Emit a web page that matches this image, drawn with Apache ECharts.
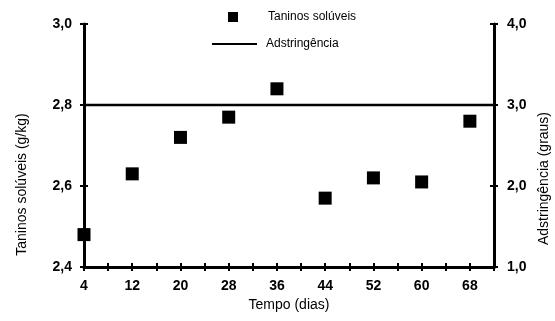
<!DOCTYPE html>
<html>
<head>
<meta charset="utf-8">
<script src="https://cdn.jsdelivr.net/npm/echarts@6/dist/echarts.min.js"></script>
<style>
html,body{margin:0;padding:0;background:#fff;}
#chart{width:555px;height:321px;}
</style>
</head>
<body>
<div id="chart"></div>
<script>
const days = [4, 12, 20, 28, 36, 44, 52, 60, 68];
const taninos = [2.48, 2.63, 2.72, 2.77, 2.84, 2.57, 2.62, 2.61, 2.76];
const adstringenciaX = [4, 72];
const adstringencia = [3.0, 3.0];
const leftTicks = [2.4, 2.6, 2.8, 3.0];
const rightTicks = [1.0, 2.0, 3.0, 4.0];
const xLabels = [4, 12, 20, 28, 36, 44, 52, 60, 68];

const FONT = 'Liberation Sans, Arial, sans-serif';
const BLACK = '#000';
const comma = v => v.toFixed(1).replace('.', ',');

const chart = echarts.init(document.getElementById('chart'));

const xBase = {
  type: 'value', min: 4, max: 72, interval: 4, position: 'bottom'
};
const yLeftBase = {
  type: 'value', min: leftTicks[0], max: leftTicks[leftTicks.length - 1], interval: 0.2, position: 'left'
};
const yRightBase = {
  type: 'value', min: rightTicks[0], max: rightTicks[rightTicks.length - 1], interval: 1, position: 'right'
};

chart.setOption({
  animation: false,
  backgroundColor: '#fff',
  grid: { left: 84, right: 61, top: 24, bottom: 54, containLabel: false, outerBoundsMode: 'none' },
  legend: [
    {
      left: 223, top: 6,
      itemWidth: 10, itemHeight: 10,
      textStyle: { fontFamily: FONT, fontSize: 12, color: BLACK, padding: [0, 0, 0, 25] },
      data: [{ name: 'Taninos solúveis', icon: 'rect' }]
    },
    {
      left: 207, top: 33,
      itemWidth: 45, itemHeight: 2,
      textStyle: { fontFamily: FONT, fontSize: 12, color: BLACK, padding: [0, 0, 0, 4] },
      data: [{ name: 'Adstringência', icon: 'rect' }]
    }
  ],
  xAxis: [
    Object.assign({}, xBase, {
      name: 'Tempo (dias)', nameLocation: 'middle', nameGap: 30,
      nameTextStyle: { fontFamily: FONT, fontSize: 14, color: BLACK },
      axisLine: { show: true, lineStyle: { color: BLACK, width: 3 } },
      axisTick: { show: true, inside: false, length: 4, lineStyle: { color: BLACK, width: 2 } },
      axisLabel: {
        fontFamily: FONT, fontSize: 14, fontWeight: 'bold', color: BLACK, margin: 12,
        formatter: v => xLabels.indexOf(v) >= 0 ? String(v) : ''
      },
      splitLine: { show: false }
    }),
    Object.assign({}, xBase, {
      axisLine: { show: false },
      axisTick: { show: true, inside: true, length: 4, lineStyle: { color: BLACK, width: 2 } },
      axisLabel: { show: false },
      splitLine: { show: false }
    })
  ],
  yAxis: [
    Object.assign({}, yLeftBase, {
      name: 'Taninos solúveis (g/kg)', nameLocation: 'middle', nameGap: 55,
      nameTextStyle: { fontFamily: FONT, fontSize: 14, color: BLACK, padding: [0, 78, 0, 0] },
      axisLine: { show: true, lineStyle: { color: BLACK, width: 3 } },
      axisTick: { show: true, inside: false, length: 4, lineStyle: { color: BLACK, width: 2 } },
      axisLabel: { fontFamily: FONT, fontSize: 14, fontWeight: 'bold', color: BLACK, margin: 12, formatter: comma },
      splitLine: { show: false }
    }),
    Object.assign({}, yRightBase, {
      name: 'Adstringência (graus)', nameLocation: 'middle', nameGap: 42,
      nameTextStyle: { fontFamily: FONT, fontSize: 14, color: BLACK, padding: [0, 66, 0, 0] },
      axisLine: { show: true, lineStyle: { color: BLACK, width: 3 } },
      axisTick: { show: true, inside: false, length: 4, lineStyle: { color: BLACK, width: 2 } },
      axisLabel: { fontFamily: FONT, fontSize: 14, fontWeight: 'bold', color: BLACK, margin: 13, formatter: comma },
      splitLine: { show: false }
    }),
    Object.assign({}, yLeftBase, {
      axisLine: { show: false },
      axisTick: { show: true, inside: true, length: 4, lineStyle: { color: BLACK, width: 2 } },
      axisLabel: { show: false }, splitLine: { show: false }
    }),
    Object.assign({}, yRightBase, {
      axisLine: { show: false },
      axisTick: { show: true, inside: true, length: 4, lineStyle: { color: BLACK, width: 2 } },
      axisLabel: { show: false }, splitLine: { show: false }
    })
  ],
  series: [
    {
      name: 'Taninos solúveis', type: 'scatter', xAxisIndex: 0, yAxisIndex: 0,
      symbol: 'rect', symbolSize: 13,
      itemStyle: { color: BLACK, opacity: 1 },
      data: days.map((d, i) => [d, taninos[i]]),
      z: 5
    },
    {
      name: 'Adstringência', type: 'line', xAxisIndex: 0, yAxisIndex: 1,
      symbol: 'none', showSymbol: false,
      lineStyle: { color: BLACK, width: 2.5 },
      itemStyle: { color: BLACK },
      data: adstringenciaX.map((d, i) => [d, adstringencia[i]])
    }
  ]
});
</script>
</body>
</html>
